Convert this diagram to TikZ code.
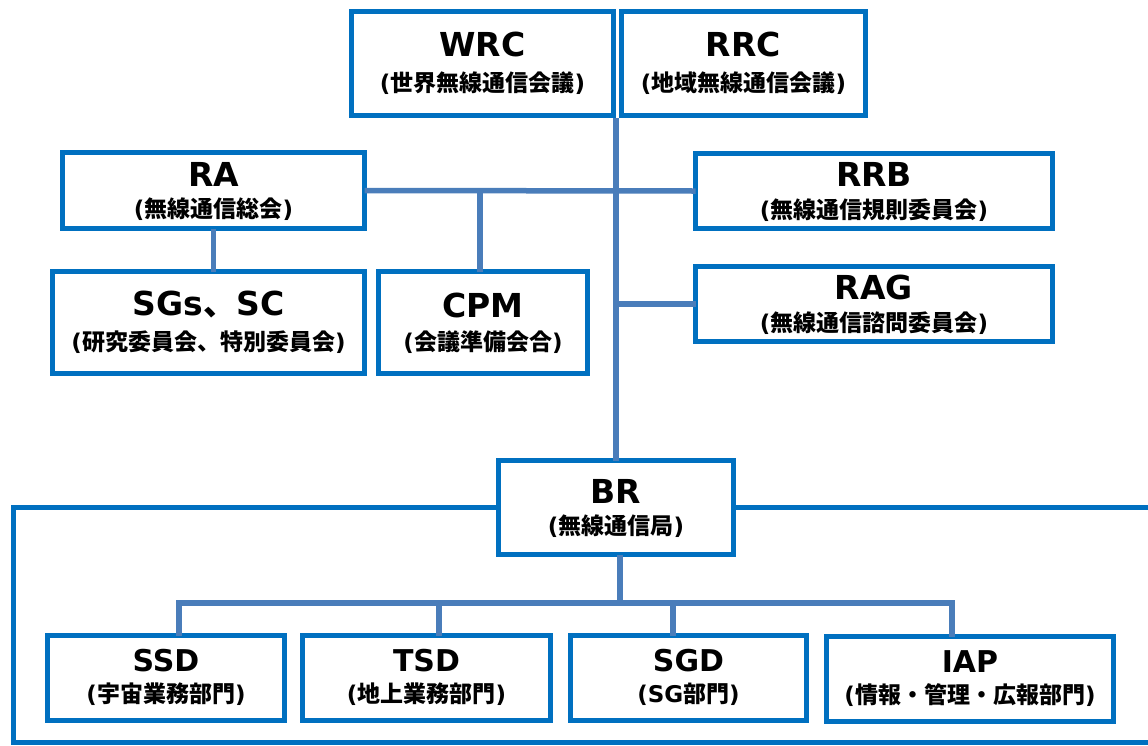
\documentclass[tikz,border=0pt]{standalone}
\usepackage{fontspec}
\setmainfont{DejaVu Sans}
\newfontfamily\cjk{Noto Sans CJK JP}
\usetikzlibrary{calc}
\definecolor{boxblue}{HTML}{0070C0}
\definecolor{linkblue}{HTML}{4A7DBA}
\newcommand\J[1]{{\cjk\bfseries #1}}
\newcommand\mkbox[9]{%
  \node[box, minimum width=#4pt, minimum height=#5pt] (#1) at (#2,#3) {};
  \node[ttl] (#1t) at ($(#1.center)+(0,#8)$) {#6};
  \node[sbt] (#1s) at ($(#1.center)+(0,#9)$) {#7};
}
\begin{document}
\begin{tikzpicture}[x=1pt,y=-1pt,
  box/.style={draw=boxblue, line width=5pt, fill=white, inner sep=0pt, outer sep=0pt},
  link/.style={draw=linkblue, line width=5.5pt},
  frame/.style={draw=boxblue, line width=5pt},
  ttl/.style={font=\bfseries\fontsize{33}{37}\selectfont, inner sep=0pt},
  sbt/.style={font=\bfseries\fontsize{23}{27}\selectfont, inner sep=0pt}]
\useasboundingbox (0,0) rectangle (1148,745);

% top boxes
\mkbox{WRC}{482.5}{63.5}{262}{104}{WRC}{(\J{世界無線通信会議})}{-19}{20}
\mkbox{RRC}{743.5}{63.5}{244}{104}{RRC}{(\J{地域無線通信会議})}{-19}{20}
\mkbox{RA}{213.5}{190.5}{302}{76}{RA}{(\J{無線通信総会})}{-16}{19}
\mkbox{RRB}{874}{191}{357}{75}{RRB}{(\J{無線通信規則委員会})}{-17}{19.5}
\mkbox{SGs}{208.5}{322.5}{312}{102}{SGs\J{、}SC}{(\J{研究委員会、特別委員会})}{-17.5}{20}
\mkbox{CPM}{483}{322.5}{209}{102}{CPM}{(\J{会議準備会合})}{-17.5}{20}
\mkbox{RAG}{874}{304}{357}{75}{RAG}{(\J{無線通信諮問委員会})}{-16.5}{19}
\mkbox{BR}{616}{507.5}{235}{94}{BR}{(\J{無線通信局})}{-16.5}{18.5}

% bottom boxes
\tikzset{ttl/.style={font=\bfseries\fontsize{30}{34}\selectfont, inner sep=0pt}}
\mkbox{SSD}{166}{678}{237}{85}{SSD}{(\J{宇宙業務部門})}{-17}{16}
\mkbox{TSD}{426.5}{678}{248}{85}{TSD}{(\J{地上業務部門})}{-17}{16}
\mkbox{SGD}{688.5}{678}{236}{85}{SGD}{(SG\J{部門})}{-17}{16}
\mkbox{IAP}{970}{679}{287}{85}{IAP}{(\J{情報・管理・広報部門})}{-17}{16}

% coordinates
\coordinate (top) at (616,118);
\coordinate (cpmj) at (480,191);
\coordinate (brd) at (620,603);
\coordinate (b1) at (179,603);
\coordinate (b2) at (439,603);
\coordinate (b3) at (673,603);
\coordinate (b4) at (952,603);
\coordinate (fl) at (13,507.5);
\coordinate (flb) at (13,742.5);
\coordinate (frb) at (1160,742.5);
\coordinate (fr) at (1160,507.5);

% connectors
\draw[link] (top) -- (BR.north);
\draw[link] (RA.east) -- (RRB.west);
\draw[link] (cpmj) -- (cpmj |- CPM.north);
\draw[link] (RA.south) -- (RA.south |- SGs.north);
\draw[link] (RAG.west) -- (RAG.west -| BR.north);
\draw[link] (brd |- BR.south) -- (brd);
\draw[link] (b1 |- SSD.north) -- (b1) -- (b4) -- (b4 |- IAP.north);
\draw[link] (b2) -- (b2 |- TSD.north);
\draw[link] (b3) -- (b3 |- SGD.north);

% frame
\draw[frame] (BR.west) -- (fl) -- (flb) -- (frb);
\draw[frame] (BR.east) -- (fr);
\end{tikzpicture}
\end{document}
